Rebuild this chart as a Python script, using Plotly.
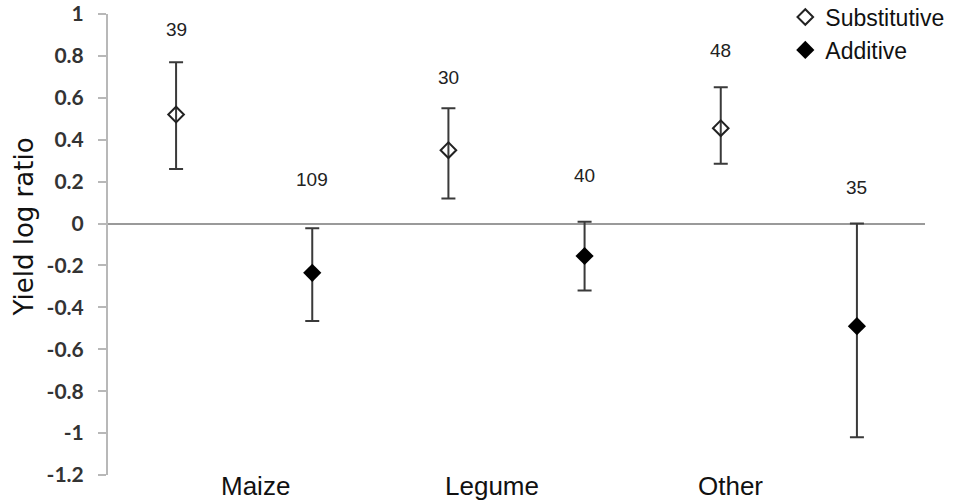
import plotly.graph_objects as go

# Crop categories and the two intercropping designs
crops = ["Maize", "Legume", "Other"]
designs = ["Substitutive", "Additive"]

# Mean yield log ratio with lower / upper confidence limits
sub_mean = [0.52, 0.35, 0.455]
sub_upper = [0.77, 0.55, 0.65]
sub_lower = [0.26, 0.12, 0.285]

add_mean = [-0.235, -0.155, -0.49]
add_upper = [-0.023, 0.008, 0.0]
add_lower = [-0.465, -0.32, -1.02]

# Number of observations per group
sub_n = [39, 30, 48]
add_n = [109, 40, 35]

y_ticks = [1, 0.8, 0.6, 0.4, 0.2, 0, -0.2, -0.4, -0.6, -0.8, -1, -1.2]

# Six point slots: each crop gets a Substitutive slot followed by an Additive slot
sub_x = [2 * i for i in range(len(crops))]
add_x = [2 * i + 1 for i in range(len(crops))]

# Where the crop names sit along the slot axis
crop_label_x = [0.58, 2.32, 4.07]

ERR_COLOR = "#3a3a3a"
TEXT_FONT = "Liberation Sans"

fig = go.Figure()

fig.add_trace(go.Scatter(
    x=sub_x, y=sub_mean, mode="markers", name=designs[0],
    marker=dict(symbol="diamond-open", size=12, color="#222222",
                line=dict(width=2, color="#222222")),
    error_y=dict(type="data", symmetric=False,
                 array=[u - m for u, m in zip(sub_upper, sub_mean)],
                 arrayminus=[m - l for m, l in zip(sub_mean, sub_lower)],
                 color=ERR_COLOR, thickness=2, width=7),
))

fig.add_trace(go.Scatter(
    x=add_x, y=add_mean, mode="markers", name=designs[1],
    marker=dict(symbol="diamond", size=14, color="#000000"),
    error_y=dict(type="data", symmetric=False,
                 array=[u - m for u, m in zip(add_upper, add_mean)],
                 arrayminus=[m - l for m, l in zip(add_mean, add_lower)],
                 color=ERR_COLOR, thickness=2, width=7),
))

# Sample-size labels above each upper limit (lift in pixels)
sub_lift = [33, 31, 37]
add_lift = [49, 46, 36]
for xs, ups, ns, lifts in ((sub_x, sub_upper, sub_n, sub_lift),
                           (add_x, add_upper, add_n, add_lift)):
    for x, u, n, lift in zip(xs, ups, ns, lifts):
        fig.add_annotation(x=x, y=u, text=str(n), showarrow=False,
                           yshift=lift, xanchor="center", yanchor="middle",
                           font=dict(family=TEXT_FONT, size=19, color="#222222"))

# Crop names under the plot
for x, name in zip(crop_label_x, crops):
    fig.add_annotation(x=x, y=0, xref="x", yref="paper", text=name, showarrow=False,
                       xanchor="center", yanchor="top", yshift=6,
                       font=dict(family=TEXT_FONT, size=26, color="#111111"))

# Y-axis title
fig.add_annotation(x=0, y=0.537, xref="paper", yref="paper", text="Yield log ratio",
                   showarrow=False, textangle=-90, xanchor="center", yanchor="middle",
                   xshift=-84,
                   font=dict(family="DejaVu Sans", size=26, color="#111111"))

fig.update_layout(
    width=955, height=504,
    margin=dict(l=108, r=30, t=14, b=29, autoexpand=False),
    paper_bgcolor="white", plot_bgcolor="white",
    showlegend=True,
    legend=dict(x=0.829, y=1.04, xanchor="left", yanchor="top",
                bgcolor="rgba(0,0,0,0)",
                font=dict(family=TEXT_FONT, size=23, color="#111111"),
                itemwidth=30, tracegroupgap=0),
    xaxis=dict(range=[-0.5, 5.5], showgrid=False, zeroline=False, showline=False,
               showticklabels=False, ticks=""),
    yaxis=dict(range=[-1.2, 1], showgrid=False,
               tickmode="array", tickvals=y_ticks, ticktext=[f"{v:g}" for v in y_ticks],
               showline=True, linecolor="#b8b8b8", linewidth=2,
               ticks="outside", ticklen=8, tickcolor="#b8b8b8", tickwidth=2,
               ticklabelstandoff=10,
               tickfont=dict(family="Lato", size=21, color="#333333", weight="bold"),
               zeroline=True, zerolinecolor="#9a9a9a", zerolinewidth=1.5),
)

fig.write_html("out.html")
